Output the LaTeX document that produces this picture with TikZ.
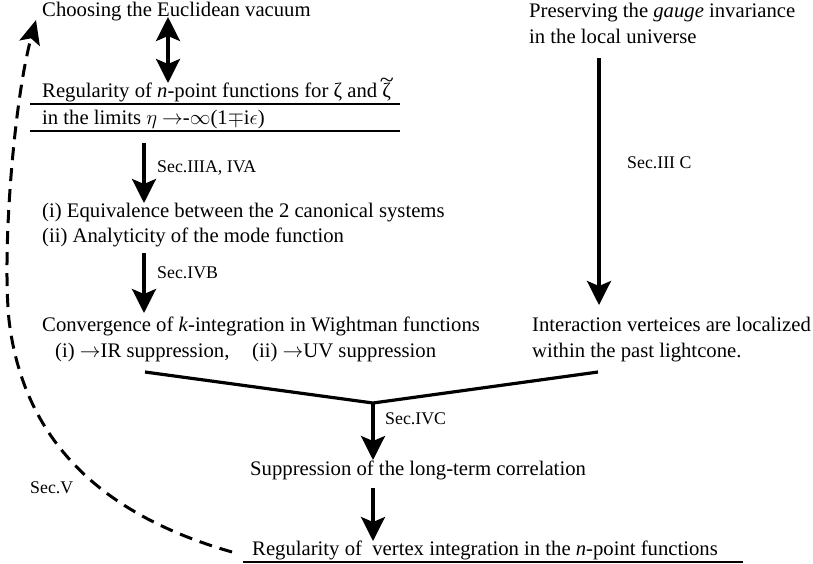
\documentclass[tikz,border=0pt]{standalone}
\usepackage{fontspec}
\setmainfont{Liberation Serif}
\usepackage{graphicx}
\usetikzlibrary{arrows.meta}
\newcommand{\tildezeta}{{\ooalign{ζ\cr\hidewidth\raisebox{0.46em}{\scalebox{1.25}[1.1]{\textasciitilde}}\hidewidth\cr}}}
\begin{document}
\begin{tikzpicture}[x=1pt,y=-1pt,
  txt/.style={anchor=base west,inner sep=0pt,font=\fontsize{20.7}{24}\selectfont},
  lbl/.style={anchor=base west,inner sep=0pt,font=\fontsize{17.8}{20}\selectfont},
  tip/.style={Stealth[length=24pt,width=24pt,inset=5pt]},
  arr/.style={line width=3.2pt,-{Stealth[length=24pt,width=24pt,inset=5pt]}},
  dblarr/.style={line width=3.2pt,{Stealth[length=24pt,width=24pt,inset=5pt]}-{Stealth[length=24pt,width=24pt,inset=5pt]}},
  vline/.style={line width=3.2pt},
  uline/.style={line width=1.3pt},
  dasharr/.style={line width=3pt,dash pattern=on 13pt off 8pt,-{Stealth[length=24pt,width=21pt,inset=5pt]}}]
\useasboundingbox (0,0) rectangle (813,563);

% texts
\node[txt] (ev) at (42,16) {Choosing the Euclidean vacuum};
\node[txt] (reg1) at (42,97) {Regularity of \textit{n}-point functions for ζ and \tildezeta};
\node[txt] (reg2) at (42,124) {in the limits $\eta$ $\rightarrow$-$\infty$(1$\mp$i$\epsilon$)};
\node[txt] (eq1) at (42,217) {(i) Equivalence between the 2 canonical systems};
\node[txt] (eq2) at (42,242) {(ii) Analyticity of the mode function};
\node[txt] (conv1) at (42,331) {Convergence of \textit{k}-integration in Wightman functions};
\node[txt] (conv2) at (55,357) {(i) $\rightarrow$IR suppression,};
\node[txt] (conv3) at (252,357) {(ii) $\rightarrow$UV suppression};
\node[txt] (pres1) at (529,17) {Preserving the \textit{gauge} invariance};
\node[txt] (pres2) at (529,43) {in the local universe};
\node[txt] (int1) at (532,331) {Interaction verteices are localized};
\node[txt] (int2) at (532,357) {within the past lightcone.};
\node[txt] (sup) at (250,475) {Suppression of the long-term correlation};
\node[txt] (regv) at (252,555) {Regularity of~ vertex integration in the \textit{n}-point functions};

% labels
\node[lbl] (l1) at (157,172) {Sec.IIIA, IVA};
\node[lbl] (l2) at (157,278) {Sec.IVB};
\node[lbl] (l3) at (627,168) {Sec.III C};
\node[lbl] (l4) at (385,424) {Sec.IVC};
\node[lbl] (l5) at (30,493) {Sec.V};

% underlines
\draw[uline] (30,104) -- (400,104);
\draw[uline] (30,131) -- (400,131);
\draw[uline] (243,562) -- (743,562);

% connector coordinates
\coordinate (d1) at (168,17);
\coordinate (d2) at (168,83);
\coordinate (a1s) at (144,143);
\coordinate (a1e) at (144,203);
\coordinate (a2s) at (144,253);
\coordinate (a2e) at (144,313);
\coordinate (a3s) at (599,58);
\coordinate (a3e) at (599,305);
\coordinate (vl) at (145,372);
\coordinate (vr) at (598,372);
\coordinate (j) at (373,403);
\coordinate (a4e) at (373,460);
\coordinate (a5s) at (373,488);
\coordinate (a5e) at (373,541);
\coordinate (dvs) at (232,552);
\coordinate (dvm) at (9,320);
\coordinate (dve) at (36,20);

% connectors
\draw[dblarr] (d1) -- (d2);
\draw[arr] (a1s) -- (a1e);
\draw[arr] (a2s) -- (a2e);
\draw[arr] (a3s) -- (a3e);
\draw[vline,line join=miter] (vl) -- (j) -- (vr);
\draw[arr] (j) -- (a4e);
\draw[arr] (a5s) -- (a5e);
\draw[dasharr] (dvs) .. controls (120,520) and (25,455) .. (dvm)
  .. controls (2,250) and (14,100) .. (dve);
\end{tikzpicture}
\end{document}
